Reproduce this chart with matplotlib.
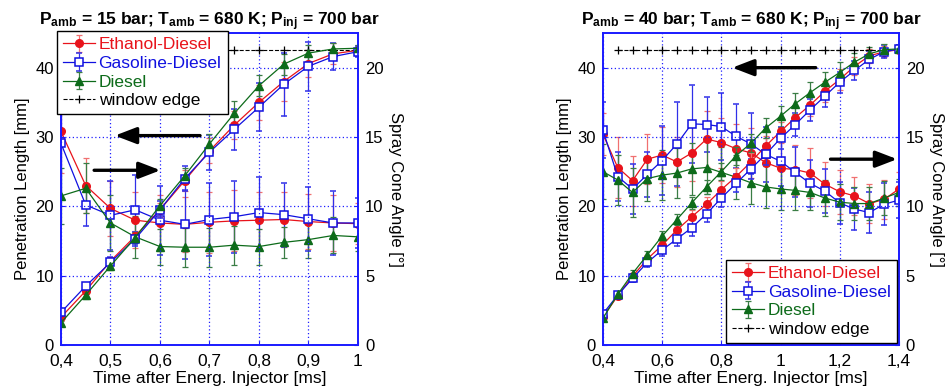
import matplotlib
matplotlib.use("Agg")
import matplotlib.pyplot as plt
import numpy as np
from matplotlib.ticker import FixedLocator, FixedFormatter

plt.rcParams['font.family'] = ['Liberation Sans', 'DejaVu Sans']
plt.rcParams['mathtext.fontset'] = 'custom'
plt.rcParams['mathtext.rm'] = 'Liberation Sans'
plt.rcParams['mathtext.bf'] = 'Liberation Sans:bold'

# ---------------- data: left panel (15 bar) ----------------
t_left = [0.40, 0.45, 0.50, 0.55, 0.60, 0.65, 0.70, 0.75, 0.80, 0.85, 0.90, 0.95, 1.00]
pen_eth_L = [4.0, 7.8, 12.1, 15.7, 19.5, 23.7, 28.0, 31.7, 35.0, 38.0, 40.6, 42.0, 42.5]
pen_gas_L = [4.7, 8.5, 11.9, 15.3, 19.5, 24.0, 27.8, 31.1, 34.3, 37.6, 40.2, 41.6, 42.3]
pen_die_L = [3.2, 7.2, 11.4, 15.5, 20.1, 24.4, 29.0, 33.4, 37.4, 40.5, 42.1, 42.7, 42.8]
pen_eth_L_err = [0.3, 0.5, 0.6, 0.8, 1.0, 1.5, 1.8, 2.0, 2.5, 2.8, 2.0, 1.5, 0.5]
pen_gas_L_err = [0.3, 0.5, 0.8, 1.0, 1.2, 1.8, 2.5, 3.0, 3.5, 4.5, 3.5, 2.0, 0.8]
pen_die_L_err = [0.3, 0.5, 0.6, 0.8, 1.0, 1.2, 1.5, 1.8, 1.5, 1.5, 1.2, 0.8, 0.5]
ang_eth_L = [15.4, 11.5, 9.85, 9.0, 8.8, 8.7, 8.85, 8.95, 9.0, 9.05, 8.9, 8.8, 8.75]
ang_gas_L = [14.55, 10.1, 9.35, 9.75, 9.0, 8.7, 9.05, 9.25, 9.55, 9.4, 9.1, 8.8, 8.8]
ang_die_L = [10.75, 11.3, 8.8, 7.8, 7.1, 7.05, 7.05, 7.2, 7.1, 7.4, 7.6, 7.9, 7.8]
ang_eth_L_err = [3.0, 2.0, 2.0, 2.0, 2.0, 2.0, 2.2, 2.2, 2.0, 2.0, 2.0, 2.0, 1.5]
ang_gas_L_err = [4.0, 1.5, 2.5, 2.5, 2.5, 2.5, 2.6, 2.6, 2.6, 2.3, 2.3, 2.3, 1.8]
ang_die_L_err = [2.0, 1.8, 2.0, 1.5, 1.3, 1.4, 1.4, 1.4, 1.3, 1.1, 1.3, 1.3, 1.0]

# ---------------- data: right panel (40 bar) ----------------
t_right = [0.40, 0.45, 0.50, 0.55, 0.60, 0.65, 0.70, 0.75, 0.80, 0.85, 0.90,
           0.95, 1.00, 1.05, 1.10, 1.15, 1.20, 1.25, 1.30, 1.35, 1.40]
pen_eth_R = [4.0, 7.1, 9.9, 12.4, 14.4, 16.6, 18.5, 20.3, 22.4, 24.3, 26.4,
             28.7, 30.8, 32.8, 34.6, 36.6, 38.3, 40.2, 41.7, 42.3, 42.6]
pen_gas_R = [4.5, 7.2, 9.6, 11.9, 13.7, 15.3, 16.9, 18.9, 21.2, 23.3, 25.4,
             27.5, 29.8, 31.8, 33.9, 35.9, 37.9, 39.6, 41.2, 42.3, 42.7]
pen_die_R = [3.85, 7.3, 10.3, 13.0, 15.7, 18.1, 20.5, 22.8, 25.0, 27.3, 29.1,
             31.3, 33.0, 34.8, 36.4, 37.9, 39.3, 40.8, 42.0, 42.6, 42.7]
pen_eth_R_err = [0.3, 0.4, 0.5, 0.6, 0.8, 0.9, 1.0, 1.0, 1.2, 1.2, 1.3,
                 1.4, 1.4, 1.5, 1.5, 1.5, 1.5, 1.3, 1.0, 0.8, 0.5]
pen_gas_R_err = [0.3, 0.4, 0.5, 0.6, 0.8, 1.0, 1.2, 1.2, 1.3, 1.3, 1.4,
                 1.5, 1.6, 1.6, 1.6, 1.6, 1.5, 1.4, 1.2, 0.9, 0.5]
pen_die_R_err = [0.3, 0.4, 0.5, 0.6, 0.7, 0.8, 0.9, 1.0, 1.2, 1.3, 1.3,
                 1.4, 1.5, 1.5, 1.5, 1.5, 1.5, 1.3, 1.0, 0.8, 0.5]
ang_eth_R = [15.2, 12.8, 11.85, 13.4, 13.7, 13.2, 13.85, 14.85, 14.6, 14.15, 13.85,
             13.15, 12.75, 12.65, 12.4, 11.6, 11.05, 10.75, 10.2, 10.5, 11.25]
ang_gas_R = [15.5, 12.15, 11.25, 12.3, 13.3, 14.5, 15.95, 15.9, 15.75, 15.05, 14.5,
             13.75, 13.25, 12.45, 11.65, 11.1, 10.25, 9.8, 9.55, 10.15, 10.45]
ang_die_R = [12.5, 11.9, 11.0, 12.0, 12.25, 12.4, 12.7, 12.8, 12.45, 12.1, 11.7,
             11.4, 11.25, 11.15, 11.0, 10.6, 10.3, 10.2, 10.2, 10.6, 11.0]
ang_eth_R_err = [1.5, 2.2, 1.8, 1.8, 2.0, 1.8, 2.0, 2.0, 1.8, 1.8, 1.8,
                 1.8, 1.8, 1.8, 1.8, 1.6, 1.6, 1.4, 1.4, 1.4, 1.2]
ang_gas_R_err = [2.0, 1.8, 1.8, 1.6, 2.5, 3.0, 2.8, 2.0, 2.4, 2.3, 2.2,
                 2.0, 1.8, 1.8, 1.7, 1.6, 1.5, 1.5, 1.5, 1.5, 1.3]
ang_die_R_err = [2.0, 1.8, 1.8, 1.6, 1.8, 1.8, 1.9, 1.9, 1.8, 1.6, 1.5,
                 1.5, 1.5, 1.4, 1.3, 1.3, 1.3, 1.2, 1.2, 1.2, 1.0]

window_edge = 42.5
xt_left = [0.4, 0.5, 0.6, 0.7, 0.8, 0.9, 1.0]
xt_left_lbl = ['0,4', '0,5', '0,6', '0,7', '0,8', '0,9', '1']
xt_right = [0.4, 0.6, 0.8, 1.0, 1.2, 1.4]
xt_right_lbl = ['0,4', '0,6', '0,8', '1', '1,2', '1,4']

RED = '#e8131b'
BLUE = '#1010e0'
GREEN = '#0d6b1a'
RED_E = '#f07070'
BLUE_E = '#3030e8'
GREEN_E = '#3a7d45'
FS = 12

fig = plt.figure(figsize=(9.48, 3.90), dpi=100)


def panel(rect, t, pens, pen_errs, angs, ang_errs, xticks, xlbls, title,
          legend_loc, legend_anchor, arrows):
    ax = fig.add_axes(rect)
    ax2 = ax.twinx()
    ax.set_zorder(ax2.get_zorder() + 1)
    ax.patch.set_visible(False)
    styles = [
        dict(color=RED, marker='o', mfc=RED, mec=RED, ms=5.5, ecolor=RED_E,
             label='Ethanol-Diesel'),
        dict(color=BLUE, marker='s', mfc='white', mec=BLUE, ms=6, mew=1.1,
             ecolor=BLUE_E, label='Gasoline-Diesel'),
        dict(color=GREEN, marker='^', mfc=GREEN, mec=GREEN, ms=6, ecolor=GREEN_E,
             label='Diesel'),
    ]
    handles = []
    for y, e, st in zip(pens, pen_errs, styles):
        h = ax.errorbar(t, y, yerr=e, lw=0.9, elinewidth=0.9, capsize=2,
                        capthick=0.9, **st)
        handles.append(h)
    for y, e, st in zip(angs, ang_errs, styles):
        st2 = dict(st)
        st2.pop('label')
        ax2.errorbar(t, y, yerr=e, lw=0.9, elinewidth=0.9, capsize=2,
                     capthick=0.9, **st2)
    we, = ax.plot(t[1:], [window_edge] * (len(t) - 1), ls='--', color='black',
                  lw=0.8, marker='+', ms=6, mew=0.9, label='window edge')
    handles.append(we)

    ax.set_xlim(t[0], t[-1])
    ax.set_ylim(0, 45)
    ax2.set_ylim(0, 22.5)
    ax.xaxis.set_major_locator(FixedLocator(xticks))
    ax.xaxis.set_major_formatter(FixedFormatter(xlbls))
    ax.set_yticks([0, 10, 20, 30, 40])
    ax2.set_yticks([0, 5, 10, 15, 20])
    ax.grid(True, color='#2020ff', ls=(0, (1, 2)), lw=0.9)
    for a in (ax, ax2):
        for s in a.spines.values():
            s.set_color('#1a1aff')
            s.set_linewidth(1.2)
        a.tick_params(labelsize=FS, colors='#1a1aff', labelcolor='black',
                      direction='in', length=3, pad=5)
    ax.tick_params(axis='x', pad=6.5, labelsize=12.5)
    ax.set_xlabel('Time after Energ. Injector [ms]', fontsize=12.5, labelpad=1.5)
    ax.set_ylabel('Penetration Length [mm]', fontsize=FS, labelpad=4)
    ax2.set_ylabel('Spray Cone Angle [°]', fontsize=FS, rotation=270,
                   labelpad=14)
    ax.set_title(title, fontsize=12.5, fontweight='bold', pad=4)

    for (x0, x1, yy) in arrows:
        ax.annotate('', xy=(x1, yy), xytext=(x0, yy),
                    arrowprops=dict(arrowstyle='-|>,head_length=1.3,head_width=0.5',
                                    mutation_scale=10, lw=2.4, color='black',
                                    shrinkA=0, shrinkB=0),
                    zorder=6)

    leg = ax.legend(handles=handles, loc=legend_loc, fontsize=12.5,
                    bbox_to_anchor=legend_anchor, bbox_transform=ax.transAxes,
                    frameon=True, fancybox=False, framealpha=1,
                    edgecolor='black', borderpad=0.35, labelspacing=0.2,
                    handlelength=1.85, handletextpad=0.2, borderaxespad=0.0)
    leg.get_frame().set_linewidth(1.0)
    leg.set_zorder(10)
    for txt, c in zip(leg.get_texts(), [RED, BLUE, GREEN, 'black']):
        txt.set_color(c)
    return ax, ax2, leg


axL, axL2, legL = panel([0.0643, 0.1154, 0.3133, 0.80], t_left,
                        [pen_eth_L, pen_gas_L, pen_die_L],
                        [pen_eth_L_err, pen_gas_L_err, pen_die_L_err],
                        [ang_eth_L, ang_gas_L, ang_die_L],
                        [ang_eth_L_err, ang_gas_L_err, ang_die_L_err],
                        xt_left, xt_left_lbl,
                        r'$\mathbf{P_{amb}}$ = 15 bar; $\mathbf{T_{amb}}$ = 680 K; $\mathbf{P_{inj}}$ = 700 bar',
                        'upper left', (-0.0135, 1.006),
                        [(0.681, 0.509, 30.2), (0.467, 0.601, 25.2)])

axR, axR2, legR = panel([0.636, 0.1154, 0.3122, 0.80], t_right,
                        [pen_eth_R, pen_gas_R, pen_die_R],
                        [pen_eth_R_err, pen_gas_R_err, pen_die_R_err],
                        [ang_eth_R, ang_gas_R, ang_die_R],
                        [ang_eth_R_err, ang_gas_R_err, ang_die_R_err],
                        xt_right, xt_right_lbl,
                        r'$\mathbf{P_{amb}}$ = 40 bar; $\mathbf{T_{amb}}$ = 680 K; $\mathbf{P_{inj}}$ = 700 bar',
                        'lower right', (0.993, 0.006),
                        [(1.119, 0.837, 40.0), (1.169, 1.394, 26.8)])

fig.savefig('out.png', dpi=100)
